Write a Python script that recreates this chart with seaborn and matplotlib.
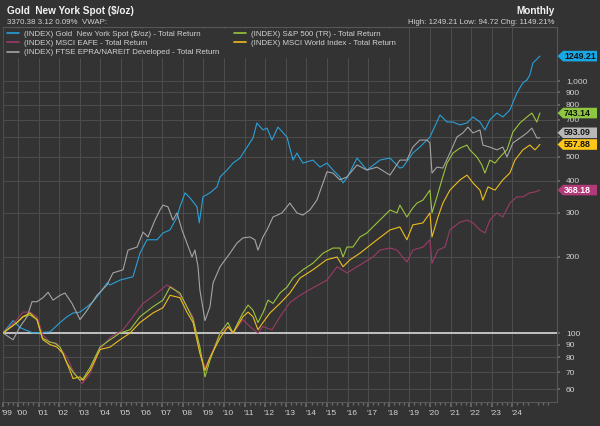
import numpy as np
import pandas as pd
import matplotlib
matplotlib.use("Agg")
import matplotlib.pyplot as plt
from matplotlib.lines import Line2D
from matplotlib.patches import Polygon
from matplotlib.transforms import IdentityTransform, ScaledTranslation
import matplotlib.ticker as mticker
import seaborn as sns

# ---------------- data ----------------
series_names = [
    "(INDEX) Gold  New York Spot ($/oz) - Total Return",
    "(INDEX) MSCI EAFE - Total Return",
    "(INDEX) FTSE EPRA/NAREIT Developed - Total Return",
    "(INDEX) S&P 500 (TR) - Total Return",
    "(INDEX) MSCI World Index - Total Return",
]

gold_t = [1999.27, 1999.76, 2000.10, 2000.73, 2001.55, 2002.04, 2002.38, 2002.67, 2003.01, 2003.35,
          2003.64, 2003.98, 2004.32, 2004.47, 2004.95, 2005.58, 2005.92, 2006.26, 2006.75, 2007.04,
          2007.38, 2007.72, 2007.86, 2008.11, 2008.35, 2008.69, 2008.80, 2008.98, 2009.32, 2009.66,
          2009.81, 2010.15, 2010.44, 2010.78, 2011.12, 2011.41, 2011.60, 2011.89, 2012.09, 2012.33,
          2012.62, 2013.06, 2013.35, 2013.54, 2013.83, 2014.32, 2014.66, 2015.00, 2015.29, 2015.63,
          2015.78, 2015.97, 2016.46, 2016.94, 2017.57, 2018.06, 2018.54, 2018.69, 2019.17, 2019.51,
          2020.00, 2020.49, 2020.83, 2021.12, 2021.46, 2021.80, 2022.09, 2022.43, 2022.67, 2022.91,
          2023.25, 2023.54, 2023.88, 2024.22, 2024.51, 2024.71, 2024.85, 2025.00, 2025.34]
gold_v = [100, 112, 105, 100, 101, 110, 116, 120, 121, 127,
          133, 144, 158, 155, 162, 167, 207, 234, 234, 249,
          256, 288, 316, 359, 343, 316, 273, 346, 359, 379,
          415, 442, 471, 493, 545, 592, 679, 637, 648, 581,
          654, 597, 484, 516, 471, 484, 454, 471, 442, 415,
          393, 411, 493, 442, 484, 493, 450, 454, 516, 545,
          597, 730, 685, 685, 667, 679, 717, 685, 637, 698,
          743, 717, 764, 892, 978, 1005, 1051, 1173, 1249.21]

eafe_t = [1999.27, 1999.95, 2000.24, 2000.58, 2000.92, 2001.21, 2001.55, 2001.89, 2002.38, 2002.67,
          2003.11, 2003.50, 2003.98, 2004.47, 2005.10, 2005.58, 2006.07, 2006.75, 2007.23, 2007.52,
          2007.86, 2008.20, 2008.50, 2008.83, 2009.08, 2009.32, 2009.81, 2010.19, 2010.44, 2010.92,
          2011.26, 2011.65, 2011.89, 2012.33, 2012.72, 2013.20, 2013.69, 2014.32, 2015.00, 2015.49,
          2015.97, 2016.46, 2017.23, 2017.57, 2018.06, 2018.40, 2018.88, 2019.17, 2019.66, 2020.00,
          2020.10, 2020.39, 2020.73, 2020.97, 2021.46, 2021.80, 2022.09, 2022.43, 2022.67, 2022.91,
          2023.25, 2023.54, 2023.88, 2024.22, 2024.51, 2024.85, 2025.10, 2025.34]
eafe_v = [100, 113, 121, 121, 116, 98, 92, 91, 80, 71,
          63, 69, 86, 96, 103, 116, 131, 144, 155, 151,
          141, 127, 116, 84, 73, 80, 100, 106, 100, 113,
          106, 100, 106, 103, 116, 132, 141, 151, 162, 183,
          173, 183, 200, 213, 217, 213, 191, 213, 219, 234,
          189, 213, 219, 256, 275, 280, 273, 256, 249, 280,
          299, 288, 327, 346, 346, 359, 362, 368.18]

epra_t = [1999.27, 1999.76, 2000.10, 2000.44, 2000.68, 2000.92, 2001.21, 2001.46, 2001.70, 2002.04,
          2002.28, 2002.62, 2003.01, 2003.35, 2003.83, 2004.32, 2004.61, 2005.10, 2005.34, 2005.78,
          2006.07, 2006.31, 2006.65, 2006.89, 2007.04, 2007.28, 2007.52, 2007.72, 2007.96, 2008.20,
          2008.45, 2008.59, 2008.74, 2008.83, 2009.08, 2009.32, 2009.47, 2009.81, 2010.29, 2010.63,
          2010.92, 2011.26, 2011.50, 2011.65, 2011.89, 2012.09, 2012.38, 2012.82, 2013.20, 2013.54,
          2013.83, 2014.17, 2014.51, 2014.81, 2015.00, 2015.29, 2015.63, 2015.97, 2016.46, 2016.94,
          2017.43, 2018.06, 2018.54, 2018.88, 2019.17, 2019.51, 2019.85, 2020.00, 2020.10, 2020.34,
          2020.63, 2020.97, 2021.31, 2021.60, 2021.84, 2022.09, 2022.43, 2022.57, 2022.91, 2023.25,
          2023.54, 2023.74, 2024.03, 2024.37, 2024.71, 2024.95, 2025.19, 2025.34]
epra_v = [100, 94, 106, 116, 133, 133, 138, 145, 135, 141,
          144, 131, 113, 123, 141, 155, 173, 178, 213, 219,
          251, 240, 280, 307, 321, 316, 280, 299, 256, 227,
          200, 213, 183, 148, 112, 127, 158, 183, 207, 227,
          238, 240, 234, 213, 240, 256, 288, 299, 327, 299,
          293, 307, 336, 393, 435, 430, 404, 415, 463, 442,
          454, 422, 484, 484, 545, 581, 581, 566, 430, 454,
          450, 516, 597, 620, 654, 620, 637, 555, 545, 531,
          545, 498, 566, 592, 620, 648, 592, 593.09]

sp_t = [1999.27, 1999.95, 2000.24, 2000.58, 2000.92, 2001.17, 2001.55, 2001.80, 2002.04, 2002.38,
        2002.67, 2003.01, 2003.16, 2003.50, 2003.98, 2004.47, 2004.95, 2005.44, 2005.92, 2006.55,
        2007.04, 2007.38, 2007.86, 2008.20, 2008.50, 2008.83, 2009.08, 2009.32, 2009.81, 2010.19,
        2010.44, 2010.68, 2010.92, 2011.17, 2011.41, 2011.65, 2011.89, 2012.14, 2012.38, 2012.72,
        2013.06, 2013.35, 2013.83, 2014.32, 2014.81, 2015.29, 2015.63, 2015.78, 2015.97, 2016.26,
        2016.60, 2016.94, 2017.23, 2017.72, 2018.06, 2018.40, 2018.54, 2018.88, 2019.17, 2019.37,
        2019.66, 2020.00, 2020.10, 2020.34, 2020.58, 2020.83, 2021.12, 2021.46, 2021.80, 2021.94,
        2022.28, 2022.52, 2022.67, 2022.91, 2023.16, 2023.40, 2023.74, 2024.03, 2024.37, 2024.71,
        2024.95, 2025.19, 2025.34]
sp_v = [100, 110, 116, 118, 113, 95.5, 92, 91, 88, 76,
        70, 65, 66, 73, 88, 94, 100, 103, 116, 127,
        135, 152, 144, 127, 113, 88, 67, 78, 100, 110,
        100, 110, 120, 129, 123, 110, 120, 135, 131, 144,
        152, 165, 178, 189, 207, 217, 217, 200, 219, 219,
        240, 249, 263, 288, 307, 299, 321, 288, 313, 327,
        336, 368, 299, 346, 404, 471, 516, 540, 555, 531,
        498, 463, 430, 484, 471, 498, 531, 625, 679, 717,
        743, 685, 743.14]

world_t = [1999.27, 1999.95, 2000.24, 2000.58, 2000.92, 2001.21, 2001.55, 2001.89, 2002.18, 2002.52,
           2002.67, 2003.01, 2003.16, 2003.50, 2003.98, 2004.47, 2004.95, 2005.44, 2005.92, 2006.55,
           2007.04, 2007.38, 2007.86, 2008.20, 2008.50, 2008.83, 2009.08, 2009.32, 2009.81, 2010.19,
           2010.44, 2010.92, 2011.17, 2011.41, 2011.65, 2011.89, 2012.23, 2012.72, 2013.20, 2013.69,
           2014.32, 2014.98, 2015.49, 2015.78, 2016.12, 2016.60, 2017.43, 2018.06, 2018.54, 2018.88,
           2019.17, 2019.66, 2020.00, 2020.10, 2020.39, 2020.63, 2020.97, 2021.46, 2021.80, 2022.09,
           2022.43, 2022.57, 2022.82, 2023.16, 2023.54, 2023.88, 2024.13, 2024.51, 2024.85, 2025.10,
           2025.34]
world_v = [100, 110, 116, 120, 113, 94, 90, 88, 83, 71,
           66, 67, 65, 71, 86, 88, 94, 100, 110, 120,
           126, 141, 138, 121, 110, 83, 71, 80, 95.5, 106,
           100, 116, 121, 116, 103, 110, 120, 131, 144, 165,
           178, 195, 200, 183, 195, 207, 234, 256, 263, 234,
           268, 273, 299, 240, 288, 327, 368, 404, 422, 393,
           368, 336, 379, 368, 404, 430, 484, 531, 555, 531,
           557.88]

series_t = [gold_t, eafe_t, epra_t, sp_t, world_t]
series_v = [gold_v, eafe_v, epra_v, sp_v, world_v]

year_labels = ["'99"] + ["'%02d" % (y % 100) for y in range(2000, 2025)]
y_ticks = [60, 70, 80, 90, 100, 200, 300, 400, 500, 600, 700, 800, 900, 1000]
# the 600 label sits behind the 593.09 tag in the reference, so it is not shown
y_tick_labels = ["60", "70", "80", "90", "100", "200", "300", "400", "500", "", "700", "800", "900", "1,000"]

title = "Gold  New York Spot ($/oz)"
subtitle = "3370.38 3.12 0.09%  VWAP:"
freq_text = "Monthly"
stats_text = "High: 1249.21 Low: 94.72 Chg: 1149.21%"

# ---------------- style ----------------
BG = "#333333"
GRID = "#4d4d4d"
TXT = "#d2d2d2"
line_colors = ["#2aa0d8", "#9c3a68", "#a4a4a4", "#9cc43c", "#ecbd1e"]
tag_colors = ["#1aa8e4", "#b23a78", "#b8b8b8", "#8ec640", "#ffc61a"]
tag_text_colors = ["#111111", "#ffffff", "#111111", "#111111", "#111111"]
tag_nudge_px = [0, 0, 5, 0, 0]

sns.set_theme(style="dark", rc={"axes.facecolor": BG, "figure.facecolor": BG})
plt.rcParams["font.family"] = ["Liberation Sans", "DejaVu Sans"]

W, H = 600, 426
fig = plt.figure(figsize=(W / 100, H / 100), dpi=100)
fig.patch.set_facecolor(BG)
ax_left, ax_right, ax_top, ax_bottom = 3, 557, 27, 402
ax = fig.add_axes([ax_left / W, 1 - ax_bottom / H, (ax_right - ax_left) / W, (ax_bottom - ax_top) / H])
ax.set_facecolor(BG)

frames = []
for name, t, v in zip(series_names, series_t, series_v):
    frames.append(pd.DataFrame({"year": t, "value": v, "series": name}))
df = pd.concat(frames, ignore_index=True)

sns.lineplot(data=df, x="year", y="value", hue="series", hue_order=series_names,
             palette=dict(zip(series_names, line_colors)), estimator=None, sort=False,
             linewidth=0.8, legend=False, ax=ax, zorder=3)

ax.axhline(100, color="#d8d8d8", lw=1.2, zorder=2)

ax.set_yscale("log")
xmin, xmax = 1999.27, 2026.17
ax.set_xlim(xmin, xmax)
ax.set_ylim(53.3, 1629)

# y axis on right
ax.yaxis.tick_right()
ax.yaxis.set_major_locator(mticker.FixedLocator(y_ticks))
ax.yaxis.set_major_formatter(mticker.FixedFormatter(y_tick_labels))
ax.yaxis.set_minor_locator(mticker.NullLocator())
ax.tick_params(axis="y", which="major", length=2.5, pad=4, color="#6a6a6a",
               labelsize=6, labelcolor=TXT, right=True, left=False)

# x axis
xt = [xmin] + list(range(2000, 2025))
ax.xaxis.set_major_locator(mticker.FixedLocator(xt))
ax.xaxis.set_major_formatter(mticker.FixedFormatter(year_labels))
ax.xaxis.set_minor_locator(mticker.FixedLocator([y + q for y in range(1999, 2026) for q in (0.25, 0.5, 0.75)]))
ax.tick_params(axis="x", which="major", length=3.5, pad=2.5, color="#6a6a6a",
               labelsize=6, labelcolor=TXT, bottom=True)
ax.tick_params(axis="x", which="minor", length=2, color="#6a6a6a", bottom=True)
offset = ScaledTranslation(0.042, 0, fig.dpi_scale_trans)
for lab in ax.get_xticklabels():
    lab.set_transform(lab.get_transform() + offset)

ax.set_xlabel("")
ax.set_ylabel("")
ax.grid(True, which="major", axis="both", color=GRID, lw=0.7)
for side in ["top", "right", "bottom"]:
    ax.spines[side].set_visible(True)
    ax.spines[side].set_color("#575757")
    ax.spines[side].set_linewidth(0.8)
ax.spines["left"].set_visible(False)

# legend
handles = [Line2D([], [], color=c, lw=1.2) for c in line_colors]
leg = ax.legend(handles, series_names, loc="upper left", bbox_to_anchor=(0.0, 1.0), ncol=2,
                fontsize=5.7, frameon=True, facecolor=BG, edgecolor=BG, framealpha=1,
                borderpad=0.25, labelspacing=0.2, handlelength=1.6, handletextpad=0.6,
                columnspacing=1.8, borderaxespad=0.2, labelcolor=TXT)
leg.get_frame().set_linewidth(0)

# header texts
fig.text(7 / W, 1 - 11 / H, title, fontsize=7.2, fontweight="bold", color="#f2f2f2", va="center", ha="left")
fig.text(7 / W, 1 - 23 / H, subtitle, fontsize=5.7, color=TXT, va="center", ha="left")
fig.text(555 / W, 1 - 11 / H, freq_text, fontsize=7.2, fontweight="bold", color="#f2f2f2", va="center", ha="right")
fig.text(555 / W, 1 - 23 / H, stats_text, fontsize=5.7, color=TXT, va="center", ha="right")

# end-value tags
fig.canvas.draw()
ident = IdentityTransform()
for v, tc, txc, nud in zip(series_v, tag_colors, tag_text_colors, tag_nudge_px):
    end = v[-1]
    _, yd = ax.transData.transform((xmax, end))
    yd += nud
    h2 = 5.3
    tip, base, right = 557.5, 563, 597
    poly = Polygon([(tip, yd), (base, yd + h2), (right, yd + h2), (right, yd - h2), (base, yd - h2)],
                   closed=True, transform=ident, facecolor=tc, edgecolor="none", zorder=5)
    fig.add_artist(poly)
    fig.text(564, yd, "%.2f" % end, transform=ident, fontsize=6.3, fontweight="bold",
             color=txc, va="center", ha="left", zorder=6)

fig.savefig("out.png", dpi=100, facecolor=BG)
